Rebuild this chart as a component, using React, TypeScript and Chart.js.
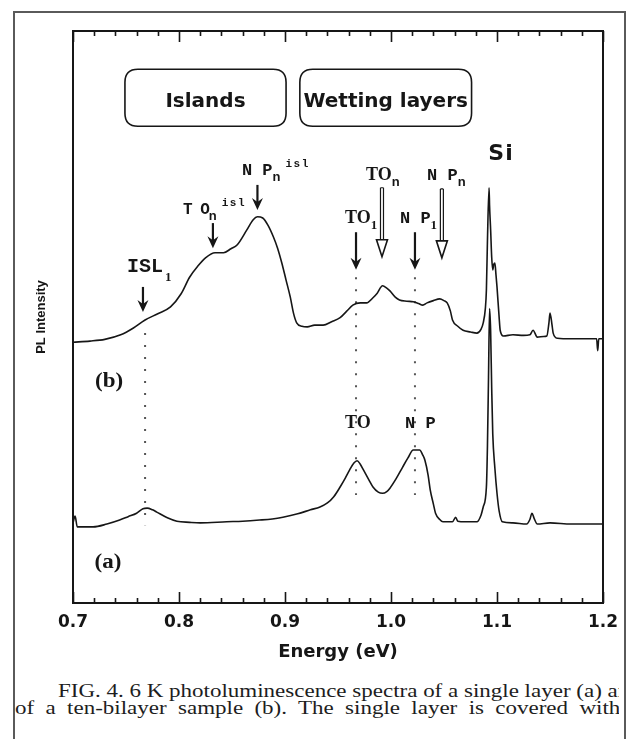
import React, { useEffect, useRef } from "react";
import { Chart, registerables } from "chart.js";

Chart.register(...registerables);

// ---------- data (energy in eV, PL intensity in arbitrary units) ----------
const energyB = [0.700, 0.716, 0.730, 0.745, 0.757, 0.768, 0.780, 0.792, 0.802, 0.810, 0.818, 0.825, 0.834, 0.842, 0.849, 0.855, 0.864, 0.870, 0.874, 0.879, 0.884, 0.889, 0.893, 0.897, 0.901, 0.905, 0.908, 0.911, 0.916, 0.921, 0.928, 0.936, 0.944, 0.952, 0.958, 0.964, 0.971, 0.977, 0.983, 0.987, 0.992, 0.996, 0.999, 1.004, 1.008, 1.015, 1.021, 1.026, 1.030, 1.034, 1.040, 1.046, 1.050, 1.053, 1.056, 1.058, 1.063, 1.068, 1.075, 1.081, 1.085, 1.087, 1.089, 1.090, 1.091, 1.0925, 1.093, 1.094, 1.095, 1.096, 1.097, 1.098, 1.099, 1.100, 1.102, 1.103, 1.106, 1.115, 1.125, 1.131, 1.134, 1.138, 1.144, 1.147, 1.149, 1.150, 1.152, 1.153, 1.157, 1.170, 1.185, 1.194, 1.195, 1.196, 1.200];
const intensityB = [46.1, 46.3, 46.6, 47.4, 48.6, 50.0, 51.1, 52.3, 54.6, 57.5, 59.5, 60.9, 61.8, 61.8, 62.5, 63.2, 65.8, 67.6, 68.1, 67.9, 66.6, 64.6, 62.6, 60.0, 57.0, 54.0, 51.2, 49.5, 48.9, 48.8, 49.1, 49.1, 49.7, 50.4, 51.5, 52.6, 53.0, 53.0, 53.9, 54.7, 56.0, 55.6, 55.1, 54.0, 53.5, 53.3, 53.2, 52.9, 52.6, 53.0, 53.4, 53.7, 53.4, 53.0, 51.6, 50.0, 48.9, 48.2, 47.9, 47.7, 48.4, 49.5, 52.0, 55.3, 64.0, 73.2, 70.0, 65.8, 61.0, 58.8, 59.8, 60.0, 58.0, 55.8, 50.5, 48.2, 47.2, 47.4, 47.3, 47.4, 48.2, 47.0, 47.1, 47.2, 49.5, 51.2, 49.0, 47.7, 46.8, 46.7, 46.7, 46.7, 44.6, 46.7, 46.7];

const energyA = [0.700, 0.702, 0.704, 0.719, 0.732, 0.744, 0.752, 0.760, 0.766, 0.770, 0.775, 0.779, 0.789, 0.798, 0.810, 0.820, 0.845, 0.860, 0.876, 0.888, 0.898, 0.912, 0.924, 0.933, 0.940, 0.946, 0.952, 0.957, 0.961, 0.965, 0.968, 0.971, 0.974, 0.979, 0.983, 0.988, 0.992, 0.996, 0.999, 1.005, 1.011, 1.016, 1.021, 1.027, 1.030, 1.032, 1.035, 1.037, 1.040, 1.042, 1.046, 1.049, 1.058, 1.061, 1.063, 1.070, 1.081, 1.085, 1.087, 1.090, 1.091, 1.092, 1.093, 1.094, 1.095, 1.096, 1.098, 1.100, 1.102, 1.105, 1.115, 1.128, 1.131, 1.133, 1.135, 1.138, 1.150, 1.170, 1.200];
const intensityA = [14.4, 15.6, 13.7, 13.7, 14.2, 14.9, 15.5, 16.1, 16.9, 17.0, 16.7, 16.3, 15.3, 14.7, 14.5, 14.4, 14.6, 14.7, 14.9, 15.1, 15.4, 16.0, 16.7, 17.2, 17.9, 19.0, 20.7, 22.3, 23.7, 24.9, 25.3, 24.7, 23.7, 22.0, 20.7, 19.8, 19.6, 19.9, 20.5, 22.2, 24.2, 25.8, 27.2, 27.2, 26.3, 25.4, 22.8, 20.2, 17.7, 16.1, 15.0, 14.6, 14.6, 15.4, 14.7, 14.6, 14.6, 15.8, 17.2, 20.7, 28.0, 40.0, 52.0, 48.0, 38.0, 30.0, 24.0, 19.6, 16.5, 14.6, 14.4, 14.2, 15.0, 16.1, 15.2, 14.2, 14.4, 14.2, 14.2];

const xTickLabels = ["0.7", "0.8", "0.9", "1.0", "1.1", "1.2"];
const xMin = 0.7;
const xMax = 1.2;
const minorStep = 0.02;
const yMin = 0.35;
const yMax = 100.7;

// dotted guide lines
const dotEnergy = [0.768, 0.967, 1.0226];
const dotTop = [47.7, 57.5, 57.5];
const dotBottom = [14.0, 19.3, 19.3];

// arrows
const arrowEnergy = [0.766, 0.832, 0.874, 0.967, 1.0226, 0.9915, 1.048];
const arrowTail = [55.8, 67.0, 73.7, 65.4, 65.4, 73.2, 73.0];
const arrowTip = [51.4, 62.6, 69.3, 58.8, 58.8, 61.1, 60.9];
const arrowHollow = [false, false, false, false, false, true, true];

// peak labels
const labelMain = ["ISL", "T O", "N P", "TO", "TO", "N P", "N P", "TO", "N P"];
const labelSub = ["1", "n", "n", "n", "1", "1", "n", "", ""];
const labelSup = ["", "isl", "isl", "", "", "", "", "", ""];
const labelEnergy = [0.751, 0.8038, 0.8594, 0.9764, 0.9566, 1.0085, 1.034, 0.9566, 1.0132];
const labelValue = [58.4, 68.6, 75.4, 74.6, 67.0, 67.0, 74.6, 31.1, 31.1];
const labelStyle = ["isl", "mono16", "mono", "serif", "serif", "mono", "mono", "serif", "mono"];

const boxText = ["Islands", "Wetting layers"];
const boxStart = [0.749, 0.914];
const boxEnd = [0.901, 1.076];
const boxTop = 94.0;
const boxBottom = 84.0;
const boxTextValue = 87.4;

const siText = "Si";
const siEnergy = 1.1038;
const siValue = 78.1;
const panelText = ["(b)", "(a)"];
const panelEnergy = [0.734, 0.733];
const panelValue = [38.2, 6.5];

const captionLines = [
  "FIG. 4. 6 K photoluminescence spectra of a single layer (a) and",
  "of a ten-bilayer sample (b). The single layer is covered with",
];

const INK = "#161616";

const mainFonts: Record<string, string> = {
  isl: 'bold 20px "Liberation Mono"',
  mono16: 'bold 16px "Liberation Mono"',
  mono: 'bold 17px "Liberation Mono"',
  serif: 'bold 18px "Liberation Serif"',
};

function drawText(ctx: CanvasRenderingContext2D, text: string, x: number, y: number, font: string, align = "left", spacing = 0, stretch = 1) {
  ctx.save();
  ctx.font = font;
  (ctx as any).letterSpacing = spacing + "px";
  ctx.textBaseline = "alphabetic";
  ctx.textAlign = "left";
  const w = ctx.measureText(text).width * stretch;
  const x0 = align === "center" ? x - w / 2 : x;
  ctx.translate(x0, y);
  ctx.scale(stretch, 1);
  ctx.fillStyle = INK;
  ctx.fillText(text, 0, 0);
  ctx.restore();
  return w;
}

function roundRect(ctx: CanvasRenderingContext2D, x0: number, y0: number, x1: number, y1: number, r: number) {
  ctx.beginPath();
  ctx.moveTo(x0 + r, y0);
  ctx.lineTo(x1 - r, y0);
  ctx.quadraticCurveTo(x1, y0, x1, y0 + r);
  ctx.lineTo(x1, y1 - r);
  ctx.quadraticCurveTo(x1, y1, x1 - r, y1);
  ctx.lineTo(x0 + r, y1);
  ctx.quadraticCurveTo(x0, y1, x0, y1 - r);
  ctx.lineTo(x0, y0 + r);
  ctx.quadraticCurveTo(x0, y0, x0 + r, y0);
  ctx.closePath();
}

const overlayPlugin = {
  id: "overlay",
  afterDatasetsDraw(chart: any) {
    const { ctx, chartArea: ca, scales } = chart;
    const X = (e: number) => scales.x.getPixelForValue(e);
    const Y = (v: number) => scales.y.getPixelForValue(v);
    ctx.save();

    // frame
    ctx.strokeStyle = INK;
    ctx.lineWidth = 2;
    ctx.strokeRect(ca.left, ca.top, ca.right - ca.left, ca.bottom - ca.top);

    // inward ticks, bottom and top
    const nTicks = Math.round((xMax - xMin) / minorStep);
    ctx.lineWidth = 1.6;
    for (let k = 0; k <= nTicks; k++) {
      const px = Math.round(X(xMin + k * minorStep)) + 0.5;
      const len = k % 5 === 0 ? 11 : 5;
      ctx.beginPath();
      ctx.moveTo(px, ca.bottom);
      ctx.lineTo(px, ca.bottom - len);
      ctx.moveTo(px, ca.top);
      ctx.lineTo(px, ca.top + len);
      ctx.stroke();
    }

    // boxes
    ctx.lineWidth = 1.6;
    boxText.forEach((t, i) => {
      const x0 = X(boxStart[i]);
      const x1 = X(boxEnd[i]);
      roundRect(ctx, x0, Y(boxTop), x1, Y(boxBottom), 13);
      ctx.stroke();
      drawText(ctx, t, (x0 + x1) / 2, Y(boxTextValue), 'bold 20px "DejaVu Sans"', "center");
    });

    // arrows
    arrowEnergy.forEach((e, i) => {
      const x = X(e);
      const y0 = Y(arrowTail[i]);
      const y1 = Y(arrowTip[i]);
      ctx.fillStyle = INK;
      if (arrowHollow[i]) {
        const hl = 17;
        const hw = 5.5;
        ctx.lineWidth = 1.2;
        ctx.beginPath();
        ctx.moveTo(x - 1.5, y0);
        ctx.lineTo(x - 1.5, y1 - hl);
        ctx.moveTo(x + 1.5, y0);
        ctx.lineTo(x + 1.5, y1 - hl);
        ctx.moveTo(x - 1.5, y0);
        ctx.lineTo(x + 1.5, y0);
        ctx.stroke();
        ctx.beginPath();
        ctx.moveTo(x - hw, y1 - hl);
        ctx.lineTo(x + hw, y1 - hl);
        ctx.lineTo(x, y1);
        ctx.closePath();
        ctx.fillStyle = "#fff";
        ctx.fill();
        ctx.lineWidth = 1.6;
        ctx.stroke();
      } else {
        ctx.lineWidth = 2.2;
        ctx.beginPath();
        ctx.moveTo(x, y0);
        ctx.lineTo(x, y1 - 6);
        ctx.stroke();
        ctx.beginPath();
        ctx.moveTo(x, y1);
        ctx.lineTo(x - 5.5, y1 - 12);
        ctx.lineTo(x, y1 - 8);
        ctx.lineTo(x + 5.5, y1 - 12);
        ctx.closePath();
        ctx.fill();
      }
    });

    // peak labels
    labelMain.forEach((t, i) => {
      const x = X(labelEnergy[i]);
      const y = Y(labelValue[i]);
      const st = labelStyle[i];
      const w = drawText(ctx, t, x, y, mainFonts[st], "left", st === "mono16" ? -1 : 0);
      let xe = x + w;
      if (labelSub[i]) {
        const sf = labelSub[i] === "n" ? 'bold 13px "Liberation Sans"' : 'bold 13px "Liberation Serif"';
        xe += drawText(ctx, labelSub[i], xe + (st === "isl" ? 2 : 0), y + (st === "isl" ? 9 : 6), sf);
      }
      if (labelSup[i]) {
        drawText(ctx, labelSup[i], xe + 5, y - 8, 'bold 11px "Liberation Mono"', "left", 1.5);
      }
    });

    drawText(ctx, siText, X(siEnergy), Y(siValue), 'bold 22px "DejaVu Sans"', "center", 1);
    panelText.forEach((t, i) => {
      drawText(ctx, t, X(panelEnergy[i]), Y(panelValue[i]), 'bold 20px "Liberation Serif"', "center", 0, 1.15);
    });

    ctx.restore();
  },
};

export default function App() {
  const ref = useRef<HTMLCanvasElement>(null);

  useEffect(() => {
    const canvas = ref.current;
    if (!canvas) return;
    const lineStyle = {
      borderColor: INK,
      borderWidth: 1.6,
      pointRadius: 0,
      fill: false,
      tension: 0.35,
      cubicInterpolationMode: "monotone" as const,
    };
    const datasets: any[] = [
      { label: "(b) ten-bilayer", data: energyB.map((e, i) => ({ x: e, y: intensityB[i] })), ...lineStyle },
      { label: "(a) single layer", data: energyA.map((e, i) => ({ x: e, y: intensityA[i] })), ...lineStyle },
    ];
    dotEnergy.forEach((e, i) => {
      datasets.push({
        label: "guide" + i,
        data: [{ x: e, y: dotTop[i] }, { x: e, y: dotBottom[i] }],
        borderColor: "#555",
        borderWidth: 2,
        borderDash: [2, 10],
        pointRadius: 0,
        fill: false,
      });
    });

    const chart = new Chart(canvas, {
      type: "line",
      data: { datasets },
      options: {
        responsive: false,
        animation: false,
        devicePixelRatio: 1,
        layout: { padding: { left: 0, top: 31, right: 28, bottom: 0 } },
        plugins: { legend: { display: false }, tooltip: { enabled: false }, title: { display: false } },
        scales: {
          x: {
            type: "linear",
            min: xMin,
            max: xMax,
            grid: { display: false, drawTicks: false },
            border: { display: false },
            ticks: {
              stepSize: 0.1,
              padding: 9,
              color: INK,
              font: { family: "DejaVu Sans", weight: "bold", size: 17 },
              maxRotation: 0,
              callback: (_v: any, i: number) => xTickLabels[i] ?? "",
            },
            title: {
              display: true,
              text: "Energy (eV)",
              color: INK,
              font: { family: "DejaVu Sans", weight: "bold", size: 18 },
              padding: { top: 0, bottom: 7 },
            },
            afterFit: (s: any) => {
              s.height = 67;
            },
          },
          y: {
            type: "linear",
            min: yMin,
            max: yMax,
            grid: { display: false, drawTicks: false },
            border: { display: false },
            ticks: { display: false },
            title: {
              display: true,
              text: "PL Intensity",
              color: INK,
              font: { family: "Liberation Sans", weight: "bold", size: 13 },
              padding: { top: 34, bottom: 0 },
            },
            afterFit: (s: any) => {
              s.width = 73;
            },
          },
        },
      },
      plugins: [overlayPlugin],
    });
    return () => chart.destroy();
  }, []);

  const captionFont = '18px "Liberation Serif"';
  return (
    <div style={{ position: "absolute", left: 0, top: 0, width: 631, height: 739, overflow: "hidden", background: "#fff" }}>
      <div
        style={{
          position: "absolute",
          left: 13,
          top: 11,
          width: 613,
          height: 800,
          border: "2px solid #5a5a5a",
          boxSizing: "border-box",
        }}
      />
      <canvas ref={ref} width={631} height={670} style={{ position: "absolute", left: 0, top: 0, width: 631, height: 670 }} />
      <div style={{ position: "absolute", left: 15, top: 670, width: 604, height: 69, overflow: "hidden" }}>
        <div
          style={{
            position: "absolute",
            left: 43,
            top: 12,
            whiteSpace: "nowrap",
            font: captionFont,
            lineHeight: "18px",
            color: "#1d1d1d",
            transform: "scaleX(1.277)",
            transformOrigin: "left top",
          }}
        >
          {captionLines[0]}
        </div>
        <div
          style={{
            position: "absolute",
            left: 0,
            top: 29,
            width: 474,
            font: captionFont,
            lineHeight: "18px",
            color: "#1d1d1d",
            textAlign: "justify",
            textAlignLast: "justify" as any,
            transform: "scaleX(1.277)",
            transformOrigin: "left top",
          }}
        >
          {captionLines[1]}
        </div>
      </div>
    </div>
  );
}
